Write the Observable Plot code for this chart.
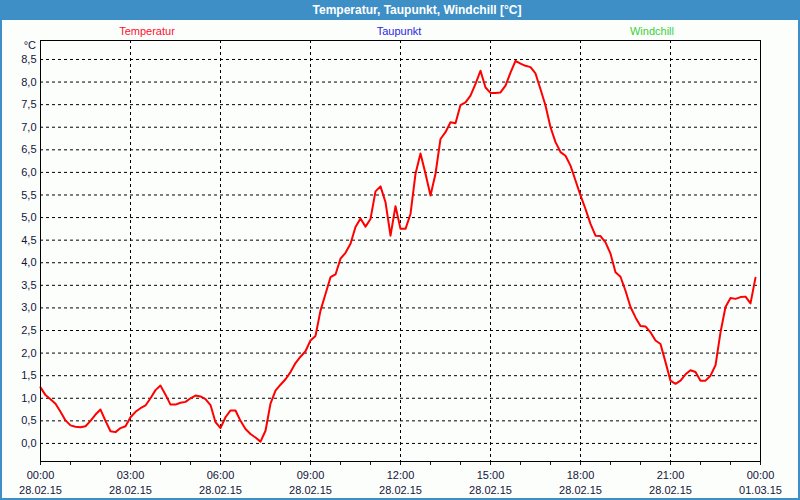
<!DOCTYPE html>
<html>
<head>
<meta charset="utf-8">
<script src="https://cdn.jsdelivr.net/npm/d3@7"></script>
<script src="https://cdn.jsdelivr.net/npm/@observablehq/plot@0.6"></script>
<style>
  html, body { margin: 0; padding: 0; background: #ffffff; }
  #wrap { position: relative; width: 800px; height: 500px; background: #3d8fc5; overflow: hidden; font-family: "Liberation Sans", Arial, sans-serif; }
  #panel { position: absolute; left: 2px; top: 20px; width: 796px; height: 478px; background: #fcfefc; }
  #title { position: absolute; left: 0; top: 0; width: 800px; height: 20px; line-height: 20px; text-align: center; color: #ffffff; font-weight: bold; font-size: 12px; padding-left: 34px; box-sizing: border-box; }
  .leg { position: absolute; top: 25px; font-size: 11px; width: 120px; text-align: center; }
  #unit { position: absolute; left: 4px; width: 32px; top: 39px; font-size: 11px; text-align: right; color: #14143a; }
  #chart { position: absolute; left: 0; top: 20px; }
</style>
</head>
<body>
<div id="wrap">
  <div id="panel"></div>
  <div id="title">Temperatur, Taupunkt, Windchill [°C]</div>
  <div class="leg" style="left:87px;color:#ff1030">Temperatur</div>
  <div class="leg" style="left:339px;color:#2828e0">Taupunkt</div>
  <div class="leg" style="left:592px;color:#38d038">Windchill</div>
  <div id="unit">°C</div>
  <div id="chart"></div>
</div>
<script>
const day = "2015-02-28";
const nextDay = "2015-03-01";
const times = [
"00:00","00:10","00:20","00:30","00:40","00:50","01:00","01:10","01:20","01:30","01:40","01:50",
"02:00","02:10","02:20","02:30","02:40","02:50","03:00","03:10","03:20","03:30","03:40","03:50",
"04:00","04:10","04:20","04:30","04:40","04:50","05:00","05:10","05:20","05:30","05:40","05:50",
"06:00","06:10","06:20","06:30","06:40","06:50","07:00","07:10","07:20","07:30","07:40","07:50",
"08:00","08:10","08:20","08:30","08:40","08:50","09:00","09:10","09:20","09:30","09:40","09:50",
"10:00","10:10","10:20","10:30","10:40","10:50","11:00","11:10","11:20","11:30","11:40","11:50",
"12:00","12:10","12:20","12:30","12:40","12:50","13:00","13:10","13:20","13:30","13:40","13:50",
"14:00","14:10","14:20","14:30","14:40","14:50","15:00","15:10","15:20","15:30","15:40","15:50",
"16:00","16:10","16:20","16:30","16:40","16:50","17:00","17:10","17:20","17:30","17:40","17:50",
"18:00","18:10","18:20","18:30","18:40","18:50","19:00","19:10","19:20","19:30","19:40","19:50",
"20:00","20:10","20:20","20:30","20:40","20:50","21:00","21:10","21:20","21:30","21:40","21:50",
"22:00","22:10","22:20","22:30","22:40","22:50","23:00","23:10","23:20","23:30","23:40","23:50"
];
const temperatur = [
1.24,1.07,0.98,0.88,0.70,0.51,0.40,0.37,0.36,0.38,0.50,0.64,
0.75,0.50,0.27,0.25,0.34,0.38,0.58,0.70,0.78,0.84,1.00,1.18,
1.28,1.08,0.86,0.86,0.90,0.92,1.00,1.06,1.04,0.98,0.85,0.47,
0.34,0.58,0.73,0.73,0.50,0.32,0.21,0.13,0.04,0.28,0.88,1.17,
1.30,1.42,1.58,1.78,1.92,2.04,2.28,2.38,2.94,3.31,3.68,3.74,
4.09,4.22,4.42,4.79,4.98,4.80,4.97,5.58,5.69,5.34,4.60,5.25,
4.75,4.75,5.08,5.97,6.42,5.97,5.49,5.97,6.74,6.89,7.11,7.09,
7.49,7.55,7.70,7.96,8.25,7.88,7.76,7.76,7.77,7.92,8.21,8.47,
8.41,8.36,8.33,8.19,7.84,7.48,7.00,6.67,6.45,6.37,6.15,5.82,
5.49,5.19,4.86,4.60,4.59,4.45,4.20,3.79,3.69,3.38,3.02,2.79,
2.60,2.59,2.46,2.28,2.20,1.80,1.39,1.32,1.39,1.53,1.62,1.58,
1.39,1.39,1.50,1.73,2.46,3.02,3.22,3.20,3.24,3.25,3.10,3.67
];
const yTicks = [0,0.5,1,1.5,2,2.5,3,3.5,4,4.5,5,5.5,6,6.5,7,7.5,8,8.5];
const xLabelTimes = ["2015-02-28T00:00","2015-02-28T03:00","2015-02-28T06:00","2015-02-28T09:00","2015-02-28T12:00","2015-02-28T15:00","2015-02-28T18:00","2015-02-28T21:00","2015-03-01T00:00"];
const xGridTimes = ["2015-02-28T03:00","2015-02-28T06:00","2015-02-28T09:00","2015-02-28T12:00","2015-02-28T15:00","2015-02-28T18:00","2015-02-28T21:00"];

const parse = s => new Date(s + ":00Z");
const data = times.map((t, i) => ({time: parse(`${day}T${t}`), value: temperatur[i]}));
const labelTicks = xLabelTimes.map(parse);
const gridTicks = xGridTimes.map(parse);
const hourTicks = d3.utcHour.range(parse(`${day}T00:00`), new Date(parse(`${nextDay}T00:00`).getTime() + 1));
const fmt = d3.utcFormat("%H:%M\n%d.%m.%y");

const chart = Plot.plot({
  width: 800,
  height: 478,
  marginLeft: 40,
  marginRight: 40,
  marginTop: 20,
  marginBottom: 37,
  style: {background: "transparent", fontFamily: "Liberation Sans, Arial, sans-serif", fontSize: "11px", color: "#14143a", overflow: "visible"},
  x: {type: "utc", domain: [parse(`${day}T00:00`), parse(`${nextDay}T00:00`)]},
  y: {domain: [-0.4, 8.92]},
  marks: [
    Plot.gridY(yTicks, {stroke: "#000", strokeOpacity: 1, strokeDasharray: "3,3"}),
    Plot.gridX(gridTicks, {stroke: "#000", strokeOpacity: 1, strokeDasharray: "3,3"}),
    Plot.axisY(yTicks, {tickSize: 0, tickPadding: 4, tickFormat: d => d.toFixed(1).replace(".", ","), label: null}),
    Plot.axisX(hourTicks, {tickSize: 4, tickFormat: () => "", label: null, stroke: "#14143a"}),
    Plot.axisX(labelTicks, {tickSize: 4, tickPadding: 3, tickFormat: fmt, label: null, lineHeight: 1.35}),
    Plot.line(data, {x: "time", y: "value", stroke: "#ff0000", strokeWidth: 2}),
    Plot.frame({stroke: "#000"})
  ]
});
document.getElementById("chart").appendChild(chart);
</script>
</body>
</html>
